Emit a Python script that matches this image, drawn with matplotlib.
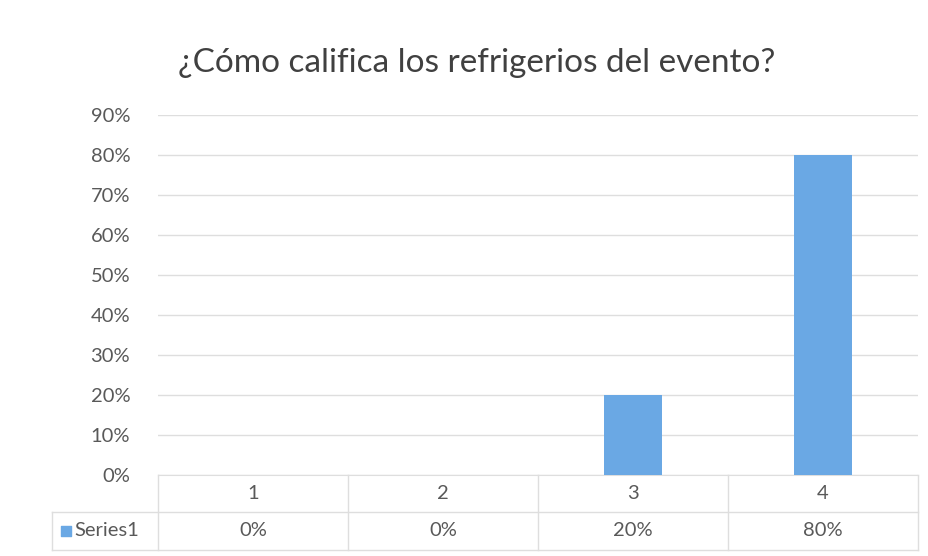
import matplotlib.pyplot as plt
from matplotlib.transforms import blended_transform_factory

plt.rcParams['font.family'] = ['Lato', 'DejaVu Sans']

title = '¿Cómo califica los refrigerios del evento?'
categories = ['1', '2', '3', '4']
values = [0.0, 0.0, 0.20, 0.80]
series_name = 'Series1'
y_ticks = [0.0, 0.1, 0.2, 0.3, 0.4, 0.5, 0.6, 0.7, 0.8, 0.9]

bar_color = '#6AA8E4'
text_color = '#595959'
grid_color = '#DEDEDE'
label_size = 14.5

fig = plt.figure(figsize=(9.29, 5.56), dpi=100)
ax = fig.add_axes([158 / 929, 1 - 475 / 556, 760 / 929, 360 / 556])

x = list(range(len(categories)))
ax.bar(x, values, width=0.31, color=bar_color, zorder=3)
ax.set_xlim(-0.5, len(categories) - 0.5)
ax.set_ylim(0, 0.9)
ax.set_yticks(y_ticks)
ax.set_yticklabels([f'{int(round(t * 100))}%' for t in y_ticks],
                   fontsize=label_size, color=text_color)
ax.tick_params(axis='y', length=0, pad=20)
ax.set_xticks([])
ax.grid(axis='y', color=grid_color, linewidth=1, zorder=0)
for side in ['top', 'right', 'left']:
  ax.spines[side].set_visible(False)
ax.spines['bottom'].set_color(grid_color)

# data table below the axis
trans = blended_transform_factory(ax.transData, ax.transAxes)
row1 = -0.103
row2 = -0.208
left = -0.5 - 106 / 190
for index in range(len(categories) + 1):
  ax.plot([index - 0.5, index - 0.5], [0, row2], transform=trans,
          color=grid_color, linewidth=1, clip_on=False)
ax.plot([left, len(categories) - 0.5], [row1, row1], transform=trans,
        color=grid_color, linewidth=1, clip_on=False)
ax.plot([left, len(categories) - 0.5], [row2, row2], transform=trans,
        color=grid_color, linewidth=1, clip_on=False)
ax.plot([left, left], [row1, row2], transform=trans,
        color=grid_color, linewidth=1, clip_on=False)

for index, (label, value) in enumerate(zip(categories, values)):
  ax.text(index, row1 / 2, label, transform=trans, ha='center', va='center',
          fontsize=label_size, color=text_color)
  ax.text(index, (row1 + row2) / 2, f'{int(round(value * 100))}%',
          transform=trans, ha='center', va='center',
          fontsize=label_size, color=text_color)

ax.scatter([left + 0.075], [(row1 + row2) / 2], marker='s', s=50,
           color=bar_color, transform=trans, clip_on=False)
ax.text(left + 0.12, (row1 + row2) / 2, series_name, transform=trans,
        ha='left', va='center', fontsize=label_size, color=text_color)

fig.text(477 / 929, 1 - 63 / 556, title, ha='center', va='center',
         fontsize=24, color='#404040')

fig.savefig('out.png', dpi=100)
